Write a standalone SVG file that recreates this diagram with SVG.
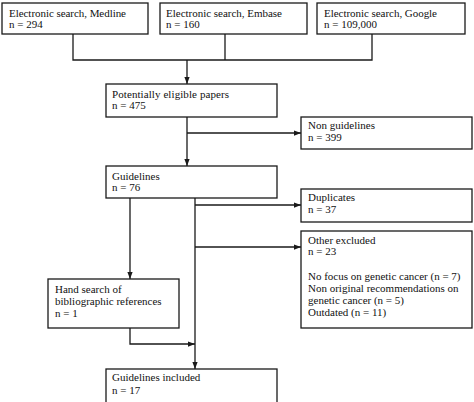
<svg xmlns="http://www.w3.org/2000/svg" width="474" height="402" viewBox="0 0 474 402">
<style>
.box{fill:#fff;stroke:#1a1a1a;stroke-width:1.3}
.t{font-family:"Liberation Serif","Times New Roman",serif;font-size:11px;fill:#111}
.c{fill:none;stroke:#1a1a1a;stroke-width:1.3}
</style>
<defs>
<marker id="ah" viewBox="0 0 8 6" refX="8" refY="3" markerWidth="7" markerHeight="5.5" markerUnits="userSpaceOnUse" orient="auto">
<path d="M0,0 L8,3 L0,6 Z" fill="#1a1a1a"/>
</marker>
</defs>
<rect width="474" height="402" fill="#fff"/>
<g id="connectors">
<path class="c" d="M73,34 V60 H372 V34"/>
<path class="c" d="M225,34 V60"/>
<path class="c" d="M187,60 V84" marker-end="url(#ah)"/>
<path class="c" d="M187,117 V166" marker-end="url(#ah)"/>
<path class="c" d="M187,133 H301" marker-end="url(#ah)"/>
<path class="c" d="M130,198 V279" marker-end="url(#ah)"/>
<path class="c" d="M195,198 V369" marker-end="url(#ah)"/>
<path class="c" d="M195,205 H301" marker-end="url(#ah)"/>
<path class="c" d="M195,247 H301" marker-end="url(#ah)"/>
<path class="c" d="M130,328 V344 H195" marker-end="url(#ah)"/>
</g>
<g id="medline">
<rect class="box" x="2" y="3" width="146" height="31"/>
<text class="t" x="9" y="17" textLength="117" lengthAdjust="spacing">Electronic search, Medline</text>
<text class="t" x="9" y="28">n = 294</text>
</g>
<g id="embase">
<rect class="box" x="160" y="3" width="147" height="31"/>
<text class="t" x="166" y="17" textLength="116" lengthAdjust="spacing">Electronic search, Embase</text>
<text class="t" x="166" y="28">n = 160</text>
</g>
<g id="google">
<rect class="box" x="317" y="3" width="148" height="31"/>
<text class="t" x="324" y="17" textLength="113" lengthAdjust="spacing">Electronic search, Google</text>
<text class="t" x="324" y="28">n = 109,000</text>
</g>
<g id="potentially">
<rect class="box" x="106" y="84" width="171" height="33"/>
<text class="t" x="112" y="98" textLength="117" lengthAdjust="spacing">Potentially eligible papers</text>
<text class="t" x="112" y="109">n = 475</text>
</g>
<g id="nonguidelines">
<rect class="box" x="301" y="117" width="171" height="32"/>
<text class="t" x="308" y="129">Non guidelines</text>
<text class="t" x="308" y="141">n = 399</text>
</g>
<g id="guidelines">
<rect class="box" x="106" y="166" width="171" height="32"/>
<text class="t" x="112" y="180">Guidelines</text>
<text class="t" x="112" y="191">n = 76</text>
</g>
<g id="duplicates">
<rect class="box" x="301" y="189" width="171" height="33"/>
<text class="t" x="308" y="201">Duplicates</text>
<text class="t" x="308" y="213">n = 37</text>
</g>
<g id="otherexcluded">
<rect class="box" x="301" y="231" width="171" height="97"/>
<text class="t" x="308" y="244">Other excluded</text>
<text class="t" x="308" y="255">n = 23</text>
<text class="t" x="308" y="280">No focus on genetic cancer (n = 7)</text>
<text class="t" x="308" y="292">Non original recommendations on</text>
<text class="t" x="308" y="304">genetic cancer (n = 5)</text>
<text class="t" x="308" y="316">Outdated (n = 11)</text>
</g>
<g id="handsearch">
<rect class="box" x="48" y="279" width="131" height="49"/>
<text class="t" x="55" y="293">Hand search of</text>
<text class="t" x="55" y="305">bibliographic references</text>
<text class="t" x="55" y="317">n = 1</text>
</g>
<g id="included">
<rect class="box" x="106" y="369" width="171" height="40"/>
<text class="t" x="112" y="381">Guidelines included</text>
<text class="t" x="112" y="394">n = 17</text>
</g>
</svg>
